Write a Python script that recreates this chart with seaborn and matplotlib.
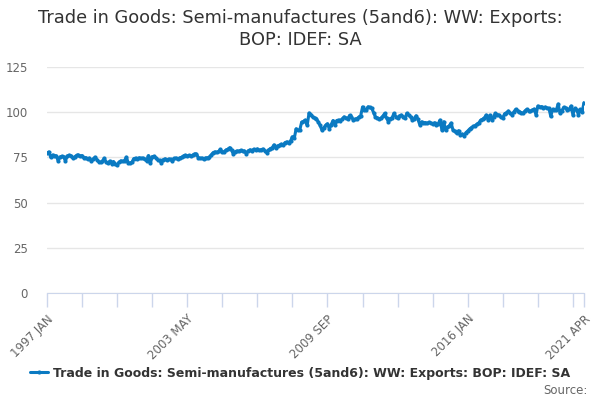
import pandas as pd
import seaborn as sns
import matplotlib.pyplot as plt


# Monthly index values, 1997 JAN .. 2021 APR
y1997 = [77.4, 78.0, 75.1, 76.3, 76.0, 75.9, 73.2, 75.2, 75.6, 75.4, 73.1, 75.8]
y1998 = [76.2, 75.9, 74.6, 75.3, 76.1, 76.3, 75.8, 76.0, 74.7, 74.9, 74.2, 74.6]
y1999 = [73.0, 74.1, 75.1, 73.8, 72.6, 72.3, 72.8, 74.5, 72.4, 71.8, 72.9, 71.6]
y2000 = [72.7, 71.4, 70.9, 72.3, 73.1, 72.8, 73.2, 75.1, 72.1, 71.9, 72.3, 74.3]
y2001 = [74.6, 74.2, 74.8, 74.4, 74.6, 73.9, 73.0, 76.0, 71.7, 75.4, 75.6, 74.7]
y2002 = [73.6, 73.3, 71.9, 73.8, 74.2, 73.7, 74.1, 73.9, 72.9, 74.4, 74.6, 74.3]
y2003 = [74.8, 75.1, 75.9, 76.2, 75.8, 76.1, 75.7, 76.3, 77.0, 76.8, 74.9, 74.5]
y2004 = [74.6, 74.3, 74.8, 74.7, 75.2, 76.4, 77.6, 78.1, 77.8, 78.3, 79.4, 78.0]
y2005 = [78.2, 79.1, 79.5, 80.4, 78.9, 76.9, 78.2, 78.6, 78.4, 78.9, 78.3, 78.5]
y2006 = [77.1, 78.6, 79.2, 78.8, 79.5, 79.0, 79.7, 78.9, 79.3, 79.6, 78.8, 77.7]
y2007 = [78.9, 79.9, 80.3, 81.9, 80.1, 81.4, 81.8, 82.3, 81.9, 83.2, 83.6, 83.1]
y2008 = [84.2, 86.4, 85.6, 90.8, 89.9, 90.3, 94.5, 94.9, 95.6, 92.8, 99.5, 98.7]
y2009 = [97.3, 96.8, 96.4, 94.6, 92.7, 90.1, 91.5, 92.8, 93.6, 90.9, 93.1, 95.4]
y2010 = [92.9, 95.4, 95.7, 95.3, 96.3, 97.4, 96.8, 96.4, 98.2, 97.5, 95.7, 96.2]
y2011 = [96.5, 97.3, 98.1, 102.9, 101.1, 101.4, 103.0, 102.6, 102.1, 99.8, 97.4, 96.9]
y2012 = [96.4, 96.7, 97.8, 99.3, 96.8, 94.8, 96.5, 96.9, 99.3, 97.6, 96.7, 97.9]
y2013 = [98.4, 97.5, 96.6, 99.4, 98.2, 97.5, 95.8, 96.4, 98.0, 96.1, 93.1, 94.7]
y2014 = [94.1, 94.3, 93.8, 94.4, 94.0, 93.6, 94.2, 93.1, 93.7, 95.6, 90.2, 94.7]
y2015 = [90.1, 91.6, 92.5, 94.0, 90.2, 89.4, 88.3, 89.8, 87.4, 87.9, 86.9, 88.7]
y2016 = [89.6, 90.7, 91.5, 92.1, 92.6, 93.4, 94.1, 95.6, 96.1, 96.8, 98.4, 95.8]
y2017 = [98.3, 95.8, 97.6, 99.3, 98.7, 98.4, 97.1, 96.9, 99.2, 99.7, 100.6, 99.4]
y2018 = [98.6, 100.2, 101.6, 100.9, 100.3, 99.8, 99.3, 100.7, 101.6, 100.9, 100.4, 101.2]
y2019 = [101.7, 98.6, 103.4, 102.6, 103.1, 102.4, 102.8, 102.3, 102.1, 97.7, 101.6, 101.2]
y2020 = [101.3, 104.5, 99.5, 100.9, 102.7, 102.4, 101.3, 101.6, 103.4, 98.6, 102.1, 101.4]
y2021 = [98.6, 101.5, 100.2, 105.3]

values = (y1997 + y1998 + y1999 + y2000 + y2001 + y2002 + y2003 + y2004 + y2005
          + y2006 + y2007 + y2008 + y2009 + y2010 + y2011 + y2012 + y2013 + y2014
          + y2015 + y2016 + y2017 + y2018 + y2019 + y2020 + y2021)
months = ['JAN', 'FEB', 'MAR', 'APR', 'MAY', 'JUN',
          'JUL', 'AUG', 'SEP', 'OCT', 'NOV', 'DEC']
labels = [f'{1997 + i // 12} {months[i % 12]}' for i in range(len(values))]
series_name = 'Trade in Goods: Semi-manufactures (5and6): WW: Exports: BOP: IDEF: SA'

df = pd.DataFrame({'pos': range(len(values)), 'value': values, 'label': labels})

sns.set_style('white')
plt.rcParams['font.family'] = ['DejaVu Sans']

fig = plt.figure(figsize=(6, 4), dpi=100)
ax = fig.add_axes([47 / 600, 1 - 293 / 400, 537 / 600, 226 / 400])

line_color = '#0a7ac2'
sns.lineplot(data=df, x='pos', y='value', ax=ax, color=line_color,
             linewidth=2.2, marker='o', markersize=3, markeredgewidth=0,
             label=series_name)

ax.set_xlim(0, len(values) - 1)
ax.set_ylim(0, 125)
ax.set_yticks([0, 25, 50, 75, 100, 125])
ax.yaxis.grid(True, color='#e6e6e6', linewidth=1)
ax.set_axisbelow(True)

# x ticks every 19 months, labels every 76 months plus the last month
tick_pos = list(range(0, len(values), 19)) + [len(values) - 1]
ax.set_xticks(tick_pos)
ax.set_xticklabels([labels[p] if (p % 76 == 0 or p == len(values) - 1) else ''
                    for p in tick_pos],
                   rotation=45, ha='right', rotation_mode='anchor')
ax.tick_params(axis='x', bottom=True, length=10, width=1, color='#ccd6eb',
               labelsize=8.5, labelcolor='#666666', pad=4)
ax.tick_params(axis='y', left=False, length=0, labelsize=8.5,
               labelcolor='#666666', pad=14)

for side in ['top', 'right', 'left']:
    ax.spines[side].set_visible(False)
ax.spines['bottom'].set_color('#ccd6eb')
ax.set_xlabel('')
ax.set_ylabel('')

fig.text(0.5, 1 - 29 / 400, 'Trade in Goods: Semi-manufactures (5and6): WW: Exports:\nBOP: IDEF: SA',
         ha='center', va='center', fontsize=12.8, color='#333333', linespacing=1.25)

leg = ax.legend(loc='center', bbox_to_anchor=(0.5, 1 - 373 / 400),
                bbox_transform=fig.transFigure, frameon=False,
                prop={'weight': 'bold', 'size': 9}, handlelength=1.5,
                handletextpad=0.4)
for t in leg.get_texts():
    t.set_color('#333333')

fig.text(588 / 600, 1 - 391 / 400, 'Source:', ha='right', va='center',
         fontsize=8.5, color='#666666')

fig.savefig('out.png', dpi=100)
